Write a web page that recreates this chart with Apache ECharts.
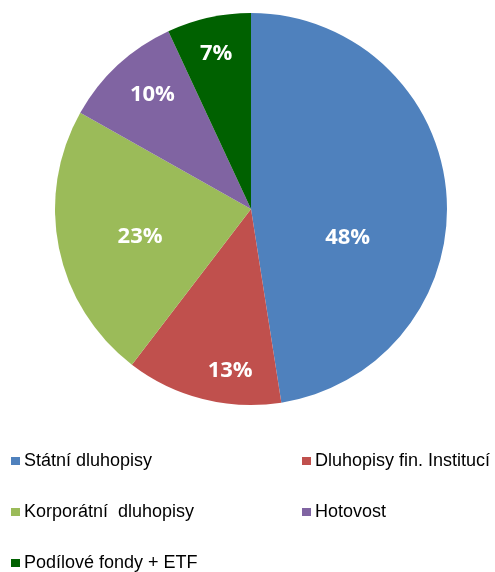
<!DOCTYPE html>
<html>
<head>
<meta charset="utf-8">
<script src="https://cdn.jsdelivr.net/npm/echarts@6/dist/echarts.min.js"></script>
<style>
  html, body { margin: 0; padding: 0; background: #ffffff; }
  #chart { width: 495px; height: 572px; }
</style>
</head>
<body>
<div id="chart"></div>
<script>
// podíly portfolia (v %)
var categories = ['Státní dluhopisy', 'Dluhopisy fin. Institucí', 'Korporátní  dluhopisy', 'Hotovost', 'Podílové fondy + ETF'];
var shares = [48, 13, 23, 10, 7];
var colors = ['#4F81BD', '#C0504D', '#9BBB59', '#8064A2', '#006100'];

// posun popisků oproti středu výseče (Excel je dává jinam než ECharts)
var labelShift = [[-4, 37], [4, 64], [-12, 7], [-30, -40], [-13, -57]];
// legenda: [levý okraj, horní okraj] pro každou položku
var legendPos = [[11, 451], [302, 451], [11, 502], [302, 502], [11, 553]];

var chart = echarts.init(document.getElementById('chart'));

var legends = categories.map(function (name, i) {
  return {
    left: legendPos[i][0],
    top: legendPos[i][1],
    padding: 0,
    icon: 'rect',
    itemWidth: 9,
    itemHeight: 8,
    itemGap: 0,
    selectedMode: false,
    textStyle: {
      fontFamily: 'Liberation Sans, Arial',
      fontSize: 18,
      color: '#000',
      lineHeight: 20,
      padding: [0, 0, 0, -1]
    },
    data: [name]
  };
});

var option = {
  animation: false,
  color: colors,
  legend: legends,
  series: [
    {
      type: 'pie',
      center: [251, 209],
      radius: [0, 196],
      startAngle: 90,
      clockwise: true,
      avoidLabelOverlap: false,
      itemStyle: { borderWidth: 0 },
      label: {
        show: true,
        position: 'inside',
        formatter: '{c}%',
        color: '#fff',
        fontFamily: 'Open Sans',
        fontWeight: 'bold',
        fontSize: 22
      },
      labelLine: { show: false },
      labelLayout: function (params) {
        var s = labelShift[params.dataIndex];
        return { dx: s[0], dy: s[1] };
      },
      emphasis: { disabled: true },
      data: categories.map(function (name, i) {
        return { name: name, value: shares[i] };
      })
    }
  ]
};

chart.setOption(option);
</script>
</body>
</html>
